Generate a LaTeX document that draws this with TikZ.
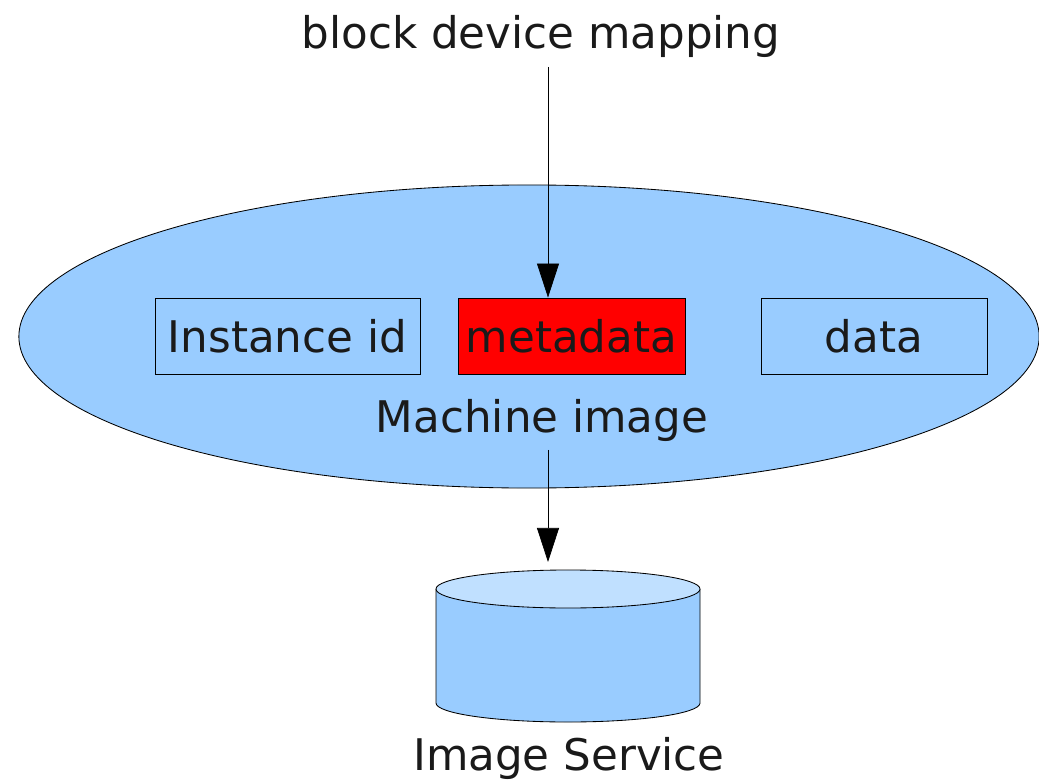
\documentclass[tikz,border=0pt]{standalone}
\usepackage{fontspec}
\setmainfont{DejaVu Sans}
\usetikzlibrary{shapes.geometric,arrows.meta}
\definecolor{imgblue}{HTML}{99CCFF}
\definecolor{imgtop}{HTML}{C0E0FF}
\definecolor{inkgrey}{HTML}{1A1A1A}
\begin{document}
\begin{tikzpicture}[
  x=0.025cm, y=-0.025cm,
  part/.style={rectangle, draw, line width=0.6pt, fill=imgblue, minimum height=1.9cm, inner sep=0pt},
  caption/.style={anchor=base, inner sep=6pt},
  flow/.style={-{Triangle[length=0.85cm, width=0.55cm]}, line width=0.5pt},
  disc/.style={x radius=3.3cm, y radius=0.475cm},
  font=\fontsize{31}{37}\selectfont, text=inkgrey
]
\useasboundingbox (0,0) rectangle (1039,781);

% Title
\node[caption] (mapping) at (541,49) {block device mapping};

% Machine image
\node[ellipse, draw, line width=0.6pt, fill=imgblue, minimum width=25.5cm, minimum height=7.575cm, inner sep=0pt] (image) at (529,336.5) {};
\node[part, minimum width=6.625cm] (instance) at (287.5,336) {Instance id};
\node[part, fill=red, minimum width=5.675cm] (metadata) at (571.5,336) {metadata};
\node[part, minimum width=5.65cm] (data) at (874,336) {data};
\node[caption] (imagelabel) at (542,432) {Machine image};

% Image service (cylinder)
\coordinate (storetop) at (568,570);
\filldraw[fill=imgblue, line width=0.6pt] (436,589) -- (436,703) arc[start angle=180, end angle=360, disc] -- (700,589);
\filldraw[fill=imgtop, line width=0.6pt] (568,589) ellipse[disc];
\node[caption] (storelabel) at (569,770) {Image Service};

% Arrows
\coordinate (axis) at (548,0);
\draw[flow] (mapping.south -| axis) -- (metadata.north -| axis);
\draw[flow] (imagelabel.south -| axis) -- ([yshift=0.2cm]storetop -| axis);

\end{tikzpicture}
\end{document}
